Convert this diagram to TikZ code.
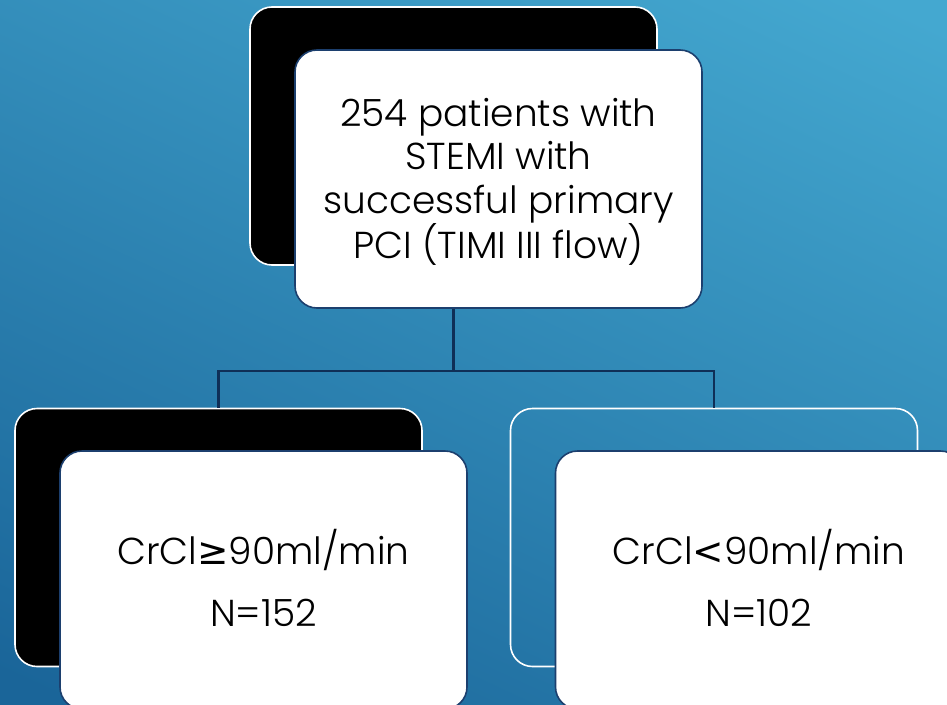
\documentclass[tikz,border=0pt]{standalone}
\usepackage{fontspec}
\setmainfont{Poppins}[UprightFont={* Light}]
\newfontfamily\symfont{DejaVu Sans}
\definecolor{bgTop}{HTML}{44A8D0}
\definecolor{bgBot}{HTML}{1A6599}
\definecolor{navy}{HTML}{1C3F6E}
\definecolor{lineNavy}{HTML}{0F2F57}
\tikzset{
  backbox/.style={draw=white, line width=1.6pt, rounded corners=22pt, minimum width=407pt, minimum height=258pt, inner sep=0pt},
  frontbox/.style={draw=navy, fill=white, line width=1.6pt, rounded corners=22pt, minimum width=407pt, minimum height=258pt, inner sep=0pt},
  boxtext/.style={align=center, inner sep=0pt, font=\fontsize{37.5}{43.5}\selectfont, text=black},
  conn/.style={draw=lineNavy, line width=2.2pt}
}
\begin{document}
\begin{tikzpicture}[x=1pt,y=-1pt]
\useasboundingbox (0,0) rectangle (947,704);
\clip (0,0) rectangle (947,704);
\shade[top color=bgTop, bottom color=bgBot, shading angle=-25] (-100,-100) rectangle (1047,804);
% back boxes
\node[backbox, fill=black] (topB) at (453.5,136) {};
\node[backbox, fill=black] (leftB) at (218.5,537.5) {};
\node[backbox] (rightB) at (714,537.5) {};
% connectors
\coordinate (split) at (453.5,371);
\draw[conn] (topB.south) -- (split);
\draw[conn] (leftB.north) |- (split) -| (rightB.north);
% front boxes
\node[frontbox] (topF) at (498.5,179) {};
\node[frontbox] (leftF) at (263.5,580) {};
\node[frontbox] (rightF) at (759,580) {};
% texts
\node[boxtext] (topT) at ([yshift=-3pt]topF.center) {254 patients with\\STEMI with\\successful primary\\PCI (TIMI III flow)};
\node[boxtext] (leftT) at ([yshift=2pt]leftF.center) {CrCl{\symfont ≥}90ml/min\\[19pt]N=152};
\node[boxtext] (rightT) at ([yshift=2pt]rightF.center) {CrCl{\symfont <}90ml/min\\[19pt]N=102};
\end{tikzpicture}
\end{document}
